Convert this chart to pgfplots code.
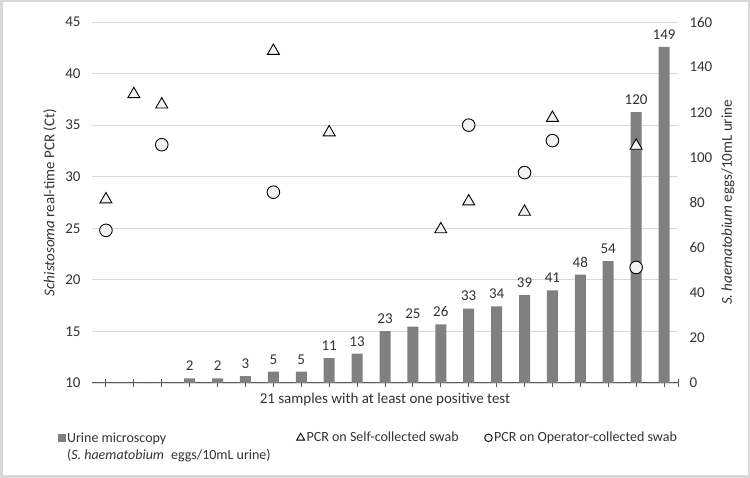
\documentclass[border=0pt]{standalone}
\usepackage{pgfplots}
\pgfplotsset{compat=1.18}
\usepackage{pgfplotstable}
\usepackage{fontspec}
\setmainfont{Carlito}
\definecolor{bargray}{HTML}{808080}
\definecolor{gridgray}{HTML}{D9D9D9}
\definecolor{axisgray}{HTML}{595959}
\definecolor{txt}{HTML}{333333}
\definecolor{markfill}{HTML}{F2F2F2}
\definecolor{framegray}{HTML}{D9D9D9}

\pgfplotstableread{
x eggs label
0 0 {}
1 0 {}
2 0 {}
3 2 2
4 2 2
5 3 3
6 5 5
7 5 5
8 11 11
9 13 13
10 23 23
11 25 25
12 26 26
13 33 33
14 34 34
15 39 39
16 41 41
17 48 48
18 54 54
19 120 120
20 149 149
}\eggtable

\pgfplotstableread{
x ct
0 27.8
1 38.0
2 37.0
6 42.2
8 34.3
12 24.9
13 27.6
15 26.6
16 35.7
19 33.0
}\selfswab

\pgfplotstableread{
x ct
0 24.8
2 33.1
6 28.5
13 35.0
15 30.4
16 33.5
19 21.2
}\opswab

\pgfplotsset{
  base/.style={
    at={(92bp,95bp)}, anchor=south west, scale only axis,
    width=586bp, height=361bp, xmin=-0.5, xmax=20.5,
    font=\fontsize{15bp}{18bp}\selectfont,
    /pgf/number format/assume math mode=true,
    tick label style={text=txt, font=\fontsize{15bp}{18bp}\selectfont},
    label style={text=txt, font=\fontsize{15bp}{18bp}\selectfont},
  }
}

\begin{document}
\begin{tikzpicture}
\path[fill=white] (0bp,0bp) rectangle (750bp,478bp);
\draw[framegray, line width=2.5bp] (1.25bp,1.25bp) rectangle (748.75bp,476.75bp);

% grid and category axis
\begin{axis}[base,
  ymin=10, ymax=45, ytick={10,15,...,45},
  ymajorgrids, grid style={gridgray, line width=0.9bp},
  axis x line*=bottom, axis y line*=left,
  y axis line style={draw=none}, ytick style={draw=none},
  x axis line style={axisgray, line width=1bp},
  xtick={0,...,20}, xticklabels={},
  extra x ticks={20.5}, extra x tick labels={},
  xtick style={axisgray, line width=1bp}, xtick align=center,
  major tick length=8bp,
  yticklabel style={xshift=-8bp},
  xlabel={21 samples with at least one positive test},
  xlabel style={at={(axis description cs:0.5,-0.047)}, anchor=center},
  ylabel={\textit{Schistosoma} real-time PCR (Ct)},
  ylabel style={at={(axis description cs:-0.0717,0.5)}, anchor=center},
]
\addplot[draw=none] coordinates {(0,10)};
\end{axis}

% bars on right axis
\begin{axis}[base,
  ymin=0, ymax=160, ytick={0,20,...,160},
  axis x line=none, axis y line*=right,
  y axis line style={draw=none}, ytick style={draw=none},
  yticklabel style={xshift=8bp},
  ylabel={\textit{S. haematobium} eggs/10mL urine},
  ylabel style={at={(axis description cs:1.0853,0.5)}, anchor=center},
  ybar, bar width=11bp,
]
\addplot[fill=bargray, draw=none, bar shift=0pt,
  nodes near coords, point meta=explicit symbolic,
  nodes near coords style={text=txt, yshift=4bp, font=\fontsize{15bp}{18bp}\selectfont}]
  table[x=x, y=eggs, meta=label] {\eggtable};
\end{axis}

% markers
\begin{axis}[base,
  ymin=10, ymax=45, hide axis,
  legend style={at={(axis description cs:-0.064,-0.122)}, anchor=north west,
    draw=none, fill=none, text=txt, font=\fontsize{14bp}{16.8bp}\selectfont,
    legend columns=3, /tikz/every even column/.append style={column sep=24bp}},
  legend cell align=left,
]
\addlegendimage{legend image code/.code={\fill[bargray] (0bp,-3.5bp) rectangle (7bp,3.5bp);}}
\addlegendentry{\begin{tabular}[t]{@{}l@{}}Urine microscopy\\ (\textit{S. haematobium}\enspace eggs/10mL urine)\end{tabular}}
\addplot[only marks, mark=triangle*, mark size=6.9bp,
  mark options={fill=markfill, draw=black, line width=0.9bp},
  legend image post style={mark size=4.6bp}]
  table[x=x, y=ct] {\selfswab};
\addlegendentry{PCR on Self-collected swab}
\addplot[only marks, mark=*, mark size=6.3bp,
  mark options={fill=markfill, draw=black, line width=0.9bp},
  legend image post style={mark size=3.8bp}]
  table[x=x, y=ct] {\opswab};
\addlegendentry{PCR on Operator-collected swab}
\end{axis}
\end{tikzpicture}
\end{document}
